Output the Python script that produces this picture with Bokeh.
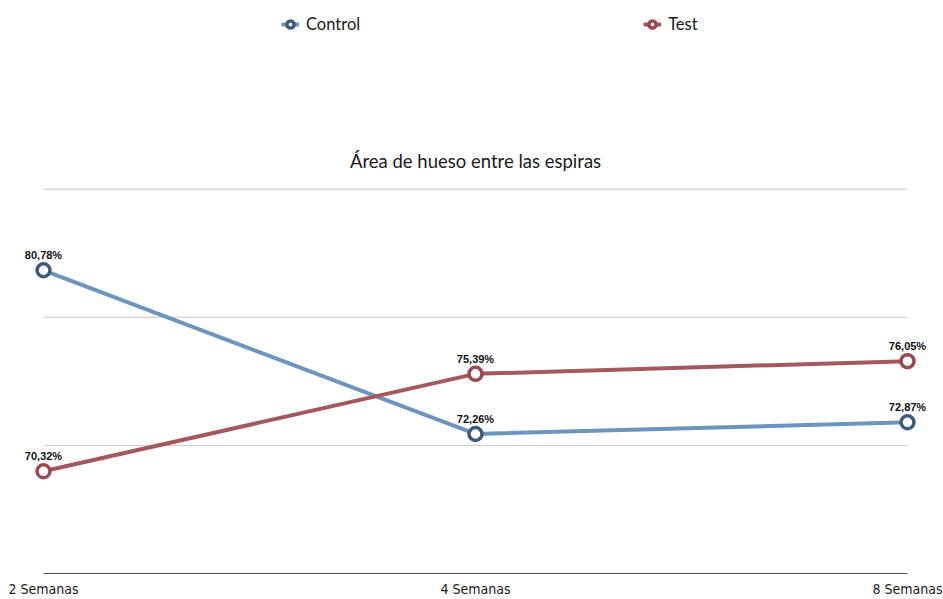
from bokeh.plotting import figure
from bokeh.models import ColumnDataSource, Legend, LegendItem, FixedTicker, Range1d, Label
from bokeh.core.properties import value
from bokeh.embed import file_html
from bokeh.resources import INLINE

categories = ["2 Semanas", "4 Semanas", "8 Semanas"]
control = [80.78, 72.26, 72.87]
test = [70.32, 75.39, 76.05]
grid_values = [65.0, 71.667, 78.333, 85.0]
title_text = "Área de hueso entre las espiras"

W, H = 943, 599
left_px, right_px = 43, 907      # pixel positions of first / last category
bottom_px, top_grid_px = 574, 189  # pixel positions of first / last grid value
frame_l, frame_r = 0, W
ppu = (right_px - left_px) / (len(categories) - 1)
x0 = -(left_px - frame_l) / ppu
x1 = (len(categories) - 1) + (frame_r - right_px) / ppu
ppy = (bottom_px - top_grid_px) / (grid_values[-1] - grid_values[0])
y1 = grid_values[-1] + top_grid_px / ppy

p = figure(width=W, height=H, output_backend="svg", toolbar_location=None,
           x_range=Range1d(x0, x1), y_range=Range1d(grid_values[0], y1),
           min_border_left=0, min_border_right=0,
           min_border_top=0, min_border_bottom=H - bottom_px)
p.outline_line_color = None
p.background_fill_color = "white"
p.border_fill_color = "white"

p.xgrid.visible = False
p.ygrid.visible = False
p.yaxis.visible = False

xs = list(range(len(categories)))

# horizontal gridlines between first and last category
n = len(grid_values) - 1
p.segment(x0=[0] * n, x1=[len(categories) - 1] * n, y0=grid_values[1:], y1=grid_values[1:],
          line_color="#c8c8c8", line_width=1)

ax = p.xaxis[0]
ax.ticker = FixedTicker(ticks=xs)
ax.major_label_overrides = {i: c for i, c in enumerate(categories)}
ax.bounds = (0, len(categories) - 1)
ax.axis_line_color = "#555555"
ax.axis_line_width = 1
ax.major_tick_line_color = None
ax.minor_tick_line_color = None
ax.major_tick_out = 0
ax.major_tick_in = 0
ax.major_label_standoff = 7
ax.major_label_text_font = "'Liberation Sans Narrow', 'DejaVu Sans Condensed', sans-serif"
ax.major_label_text_font_size = "14px"
ax.major_label_text_color = "#1a1a1a"

series = [
    ("Control", control, "#6b94be", "#3d5b7c"),
    ("Test", test, "#a4585b", "#9a484d"),
]

items = []
for name, vals, lc, mc in series:
    src = ColumnDataSource(dict(x=xs, y=vals,
                                lab=[f"{v:.2f}".replace(".", ",") + "%" for v in vals]))
    r1 = p.line("x", "y", source=src, line_color=lc, line_width=4)
    r2 = p.scatter("x", "y", source=src, size=13, marker="circle",
                   fill_color="white", line_color=mc, line_width=3.5)
    p.text("x", "y", text="lab", source=src, text_align="center", text_baseline="bottom",
           y_offset=-9, text_font=value("Liberation Sans"), text_font_size="11px",
           text_font_style="bold", text_color="#111111")
    items.append(LegendItem(label=name, renderers=[r1, r2]))

title = Label(x=(len(categories) - 1) / 2, y=bottom_px - 161, x_units="data", y_units="screen",
              text=title_text, text_align="center", text_baseline="alphabetic",
              text_font="Lato", text_font_size="18.5px", text_color="#1a1a1a")
p.add_layout(title)

legend = Legend(items=items, orientation="horizontal", location=(281, bottom_px - 35),
                spacing=283, glyph_width=18, glyph_height=20, label_standoff=7,
                padding=0, margin=0, border_line_color=None, background_fill_alpha=0,
                label_text_font="Lato", label_text_font_size="16.5px",
                label_text_color="#1a1a1a")
p.add_layout(legend, "center")

open("out.html", "w").write(file_html(p, INLINE))
